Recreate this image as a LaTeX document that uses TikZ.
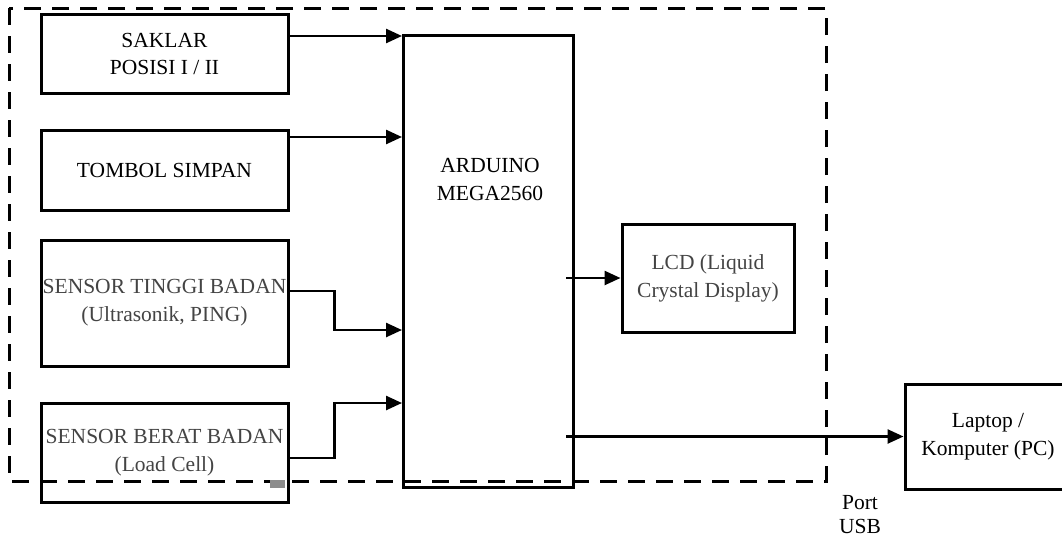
\documentclass[tikz,border=0pt]{standalone}
\usepackage{fontspec}
\setmainfont{Liberation Serif}
\usetikzlibrary{arrows.meta,positioning,calc}
\definecolor{bgray}{HTML}{444444}
\tikzset{
  box/.style={draw=black,fill=white,line width=3pt,align=center,font=\fontsize{21.5}{27}\selectfont,inner sep=0pt},
  sbox/.style={box,text=bgray,font=\fontsize{21.5}{28}\selectfont},
  arr/.style={-{Triangle[length=16pt,width=14pt]},line width=2.5pt,draw=black},
  frame/.style={line width=3pt,dash pattern=on 17pt off 11pt},
  lbl/.style={align=center,font=\fontsize{21.5}{26}\selectfont,inner sep=0pt},
}
\begin{document}
\begin{tikzpicture}[x=1pt,y=-1pt]
  \useasboundingbox (0,0) rectangle (1062,541);
  % input blocks
  \node[box,minimum width=247pt,minimum height=79pt] (saklar) at (164.5,53.5) {SAKLAR\\POSISI I / II};
  \node[box,minimum width=247pt,minimum height=80pt] (tombol) at (164.5,170) {TOMBOL SIMPAN};
  \node[sbox,minimum width=247pt,minimum height=126pt] (tinggi) at (164.5,303) {SENSOR TINGGI BADAN\\(Ultrasonik, PING)};
  \node[sbox,minimum width=247pt,minimum height=99pt] (berat) at (164.5,452.5) {SENSOR BERAT BADAN\\(Load Cell)};
  % controller and outputs
  \node[box,minimum width=170pt,minimum height=452pt] (ard) at (488.5,261) {};
  \node[lbl,font=\fontsize{21.5}{28}\selectfont] (ardtxt) at (490,179) {ARDUINO\\MEGA2560};
  \node[sbox,minimum width=172pt,minimum height=108pt] (lcd) at (708,278) {LCD (Liquid\\Crystal Display)};
  \node[box,minimum width=166pt,minimum height=105pt,font=\fontsize{21.5}{28}\selectfont] (pc) at (988,436.5) {Laptop /\\Komputer (PC)};
  \node[lbl,font=\fontsize{21.5}{24}\selectfont] (usb) at (860,515) {Port\\USB};

  \draw[arr] ([yshift=17.5pt]saklar.east) -- ([yshift=17.5pt]saklar.east -| ard.west);
  \draw[arr] ([yshift=33pt]tombol.east) -- ([yshift=33pt]tombol.east -| ard.west);
  \draw[arr] ([yshift=12pt]tinggi.east) -- ++(45,0) |- ([yshift=-69pt]ard.west);
  \draw[arr] ([yshift=-5.5pt]berat.east) -- ++(45,0) |- ([yshift=-142pt]ard.west);
  \draw[arr] ([xshift=-9pt]ard.east |- lcd.west) -- (lcd.west);
  \draw[arr] ([xshift=-9pt]ard.east |- pc.west) -- (pc.west);

  % system boundary
  \draw[frame] (9,8) rectangle (826,481);
  \fill[black!45] (270,480) rectangle (285,488);
\end{tikzpicture}
\end{document}
